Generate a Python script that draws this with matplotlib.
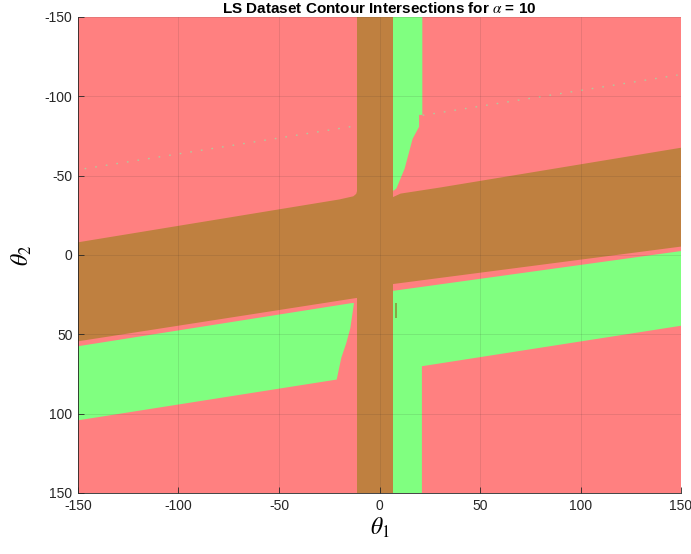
import matplotlib
matplotlib.use("Agg")
import matplotlib.pyplot as plt

plt.rcParams['font.family'] = ['Liberation Sans', 'DejaVu Sans']
plt.rcParams['mathtext.fontset'] = 'stix'
plt.rcParams['axes.unicode_minus'] = False

# ---- data (theta1, theta2 in degrees) ----
lim = [-150, 150]
ticks = [-150, -100, -50, 0, 50, 100, 150]

# vertical brown band (theta1 edges)
brown_v = [-11.0, 6.7]

# slanted brown band: top edge (left->right) and bottom edge (right->left)
brown_top_t1 = [-150, -20.0, -13.0, -11.6, -11.0, 6.7, 10.5, 30.0, 150]
brown_top_t2 = [-8.0, -35.0, -37.0, -38.5, -41.0, -36.5, -38.7, -42.5, -67.6]
brown_bot_t1 = [150, 6.7, -11.0, -150]
brown_bot_t2 = [-5.3, 18.3, 27.0, 54.4]

# lower-left green region
ll_top_t1 = [-150, -13.8]
ll_top_t2 = [57.5, 30.3]
ll_curve_t1 = [-12.7, -14.5, -16.5, -19.0, -20.6, -21.3]
ll_curve_t2 = [30.3, 46.0, 55.4, 64.8, 74.3, 78.5]
ll_bot_t1 = [-150]
ll_bot_t2 = [104.2]

# upper-right green region (vertical band above the slanted band)
ur_t1 = [6.7, 21.3, 21.3, 19.7, 19.7, 16.5, 12.5, 8.4, 7.1, 6.7]
ur_t2 = [-150, -150, -88.3, -88.3, -80.8, -73.3, -54.4, -41.9, -40.6, -40.6]

# lower-right green region
lr_t1 = [6.7, 21.1, 21.1, 150, 150, 6.7]
lr_t2 = [150, 150, 70.1, 44.6, -2.5, 22.6]

# small olive sliver
sliver_t1 = [7.6, 8.6]
sliver_t2 = [30.3, 39.7]

# faint dotted artefact line
dot_t1 = [-146.7, 148.3]
dot_t2 = [-54.4, -113.4]

RED = '#FF8080'
GREEN = '#80FF80'
BROWN = '#BF8040'

fig = plt.figure(figsize=(6.91, 5.54), dpi=100)
ax = fig.add_axes([78/691, 61/554, 603/691, 476/554])
ax.set_facecolor(RED)

# faint dotted artefact (under the coloured regions)
ax.plot(dot_t1, dot_t2, color='#B2C99E', lw=1.0, dashes=(1.2, 6.5), zorder=0.5)

# green regions
ax.fill(ur_t1, ur_t2, color=GREEN, lw=0, zorder=1)
ax.fill(lr_t1, lr_t2, color=GREEN, lw=0, zorder=1)
ax.fill(ll_top_t1 + ll_curve_t1 + ll_bot_t1, ll_top_t2 + ll_curve_t2 + ll_bot_t2,
        color=GREEN, lw=0, zorder=1)
ax.fill([sliver_t1[0], sliver_t1[1], sliver_t1[1], sliver_t1[0]],
        [sliver_t2[0], sliver_t2[0], sliver_t2[1], sliver_t2[1]],
        color='#86A847', lw=0, zorder=1.5)

# brown regions
ax.fill([brown_v[0], brown_v[1], brown_v[1], brown_v[0]],
        [lim[0], lim[0], lim[1], lim[1]], color=BROWN, lw=0, zorder=2)
ax.fill(brown_top_t1 + brown_bot_t1, brown_top_t2 + brown_bot_t2,
        color=BROWN, lw=0, zorder=2)

ax.set_xlim(lim)
ax.set_ylim(lim[1], lim[0])
ax.set_xticks(ticks)
ax.set_yticks(ticks)
ax.tick_params(direction='in', length=4, width=0.6, color='#262626',
               labelsize=10, labelcolor='#262626', pad=4)
ax.grid(True, color='#262626', alpha=0.12, lw=0.6, zorder=4)
ax.set_axisbelow(False)
for s in ['top', 'right']:
    ax.spines[s].set_visible(False)
for s in ['left', 'bottom']:
    ax.spines[s].set_color('#262626')
    ax.spines[s].set_linewidth(0.6)

ax.set_title('LS Dataset Contour Intersections for $\\alpha$ = 10',
             fontsize=11, fontweight='bold', pad=3)
ax.set_xlabel('$\\theta_1$', fontsize=17, labelpad=2)
ax.set_ylabel('$\\theta_2$', fontsize=17, labelpad=8)

fig.savefig('out.png', dpi=100)
